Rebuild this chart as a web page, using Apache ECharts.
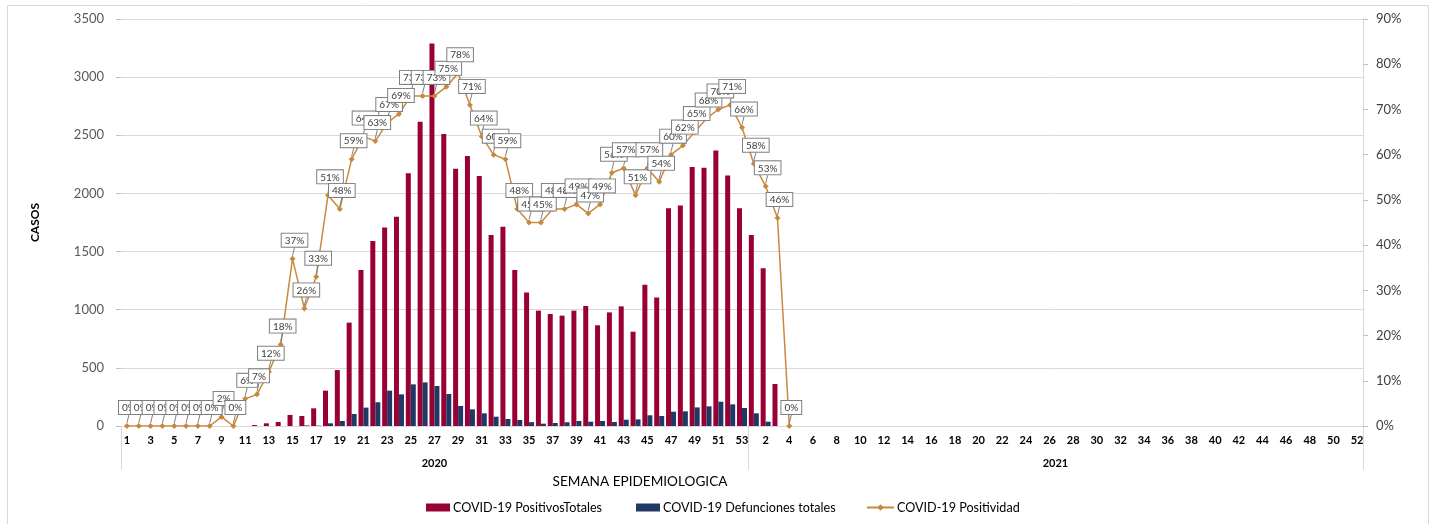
<!DOCTYPE html>
<html>
<head>
<meta charset="utf-8">
<script src="https://cdn.jsdelivr.net/npm/echarts@6/dist/echarts.min.js"></script>
<style>
  html, body { margin: 0; padding: 0; background: #fff; }
  #chart { width: 1433px; height: 524px; }
</style>
</head>
<body>
<div id="chart"></div>
<script>
// Epidemiological weeks: 2020 has 53 weeks, 2021 has 52
const semanas = [
  '1','2','3','4','5','6','7','8','9','10','11','12','13','14','15','16','17','18','19','20',
  '21','22','23','24','25','26','27','28','29','30','31','32','33','34','35','36','37','38','39','40',
  '41','42','43','44','45','46','47','48','49','50','51','52','53',
  '1','2','3','4','5','6','7','8','9','10','11','12','13','14','15','16','17','18','19','20',
  '21','22','23','24','25','26','27','28','29','30','31','32','33','34','35','36','37','38','39','40',
  '41','42','43','44','45','46','47','48','49','50','51','52'
];
const anios = ['2020', '2021'];
const semanasPorAnio = [53, 52];

// Weekly positive cases (2020 w1..w53, then 2021)
const positivos = [
  0, 0, 0, 0, 0, 0, 0, 0, 0, 0, 0, 8, 23, 34, 95, 86, 152, 304, 481, 889,
  1341, 1591, 1708, 1800, 2173, 2617, 3290, 2511, 2213, 2322, 2150, 1642, 1714, 1341, 1149, 992, 963, 949, 992, 1032,
  866, 977, 1029, 811, 1215, 1106, 1872, 1897, 2227, 2221, 2370, 2155, 1872,
  1642, 1356, 361
];

// Weekly deaths
const defunciones = [
  0, 0, 0, 0, 0, 0, 0, 0, 0, 0, 0, 0, 0, 0, 0, 5, 3, 23, 43, 103,
  158, 204, 304, 272, 358, 375, 344, 275, 172, 143, 109, 80, 60, 52, 33, 20, 26, 32, 43, 37,
  43, 34, 54, 57, 92, 86, 123, 126, 160, 169, 209, 186, 155,
  109, 37, 0
];

// Weekly test positivity (fraction)
const positividad = [
  0, 0, 0, 0, 0, 0, 0, 0, 0.02, 0, 0.06, 0.07, 0.12, 0.18, 0.37, 0.26, 0.33, 0.51, 0.48, 0.59,
  0.64, 0.63, 0.67, 0.69, 0.73, 0.73, 0.73, 0.75, 0.78, 0.71, 0.64, 0.60, 0.59, 0.48, 0.45, 0.45, 0.48, 0.48, 0.49, 0.47,
  0.49, 0.56, 0.57, 0.51, 0.57, 0.54, 0.60, 0.62, 0.65, 0.68, 0.70, 0.71, 0.66,
  0.58, 0.53, 0.46, 0
];

const FONT = 'Lato, "Open Sans", "Noto Sans", sans-serif';
const C_POS = '#990033';
const C_DEF = '#1f3864';
const C_LINE = '#c8893c';
const pct = v => Math.round(v * 100) + '%';

const chart = echarts.init(document.getElementById('chart'), null, { renderer: 'canvas' });

const legendBase = {
  top: 501, padding: 0, itemGap: 0, itemWidth: 24, itemHeight: 8,
  textStyle: { fontFamily: FONT, fontSize: 12.6, color: '#000', padding: [0, 0, 0, -2] }
};

chart.setOption({
  animation: false,
  textStyle: { fontFamily: FONT },
  grid: { left: 121, right: 70, top: 19, bottom: 98 },
  legend: [
    Object.assign({}, legendBase, { left: 426, data: [{ name: 'COVID-19 PositivosTotales', icon: 'rect' }] }),
    Object.assign({}, legendBase, { left: 636, data: [{ name: 'COVID-19 Defunciones totales', icon: 'rect' }] }),
    Object.assign({}, legendBase, { left: 866, itemWidth: 27, data: ['COVID-19 Positividad'] })
  ],
  xAxis: {
    type: 'category',
    data: semanas,
    boundaryGap: true,
    axisLine: { show: true, lineStyle: { color: '#d9d9d9' } },
    axisTick: { show: false },
    axisLabel: { interval: 1, margin: 9, fontSize: 11, fontWeight: 'bold', color: '#000' }
  },
  yAxis: [
    {
      type: 'value', min: 0, max: 3500, interval: 500,
      name: 'CASOS', nameLocation: 'middle', nameGap: 80,
      nameTextStyle: { fontSize: 12, fontWeight: 'bold', color: '#000' },
      axisLine: { show: false },
      axisTick: { show: true, length: 5, lineStyle: { color: '#bfbfbf' } },
      axisLabel: { margin: 17, fontSize: 13, color: '#595959', formatter: v => String(v) },
      splitLine: { lineStyle: { color: '#d9d9d9' } }
    },
    {
      type: 'value', min: 0, max: 0.9, interval: 0.1, position: 'right',
      axisLine: { show: true, lineStyle: { color: '#d9d9d9' } },
      axisTick: { show: true, length: 5, lineStyle: { color: '#bfbfbf' } },
      axisLabel: { margin: 13, fontSize: 13, color: '#404040', formatter: pct },
      splitLine: { show: false }
    }
  ],
  series: [
    {
      name: 'COVID-19 PositivosTotales', type: 'bar', data: positivos,
      barWidth: 5, barGap: '0%', itemStyle: { color: C_POS }
    },
    {
      name: 'COVID-19 Defunciones totales', type: 'bar', data: defunciones,
      barWidth: 5, barGap: '0%', itemStyle: { color: C_DEF }
    },
    {
      name: 'COVID-19 Positividad', type: 'line', yAxisIndex: 1, data: positividad,
      symbol: 'diamond', symbolSize: 6,
      lineStyle: { color: C_LINE, width: 1.5 },
      itemStyle: { color: C_LINE },
      label: {
        show: true, position: 'top', distance: 8,
        formatter: p => pct(p.value),
        fontSize: 10, color: '#404040', backgroundColor: '#fff',
        borderColor: '#7f7f7f', borderWidth: 1, padding: [2, 3, 1, 3]
      },
      labelLine: { show: true, length2: 0, lineStyle: { color: '#7f7f7f', width: 1 } },
      labelLayout: { dx: 2, dy: -1 }
    }
  ]
});

// Year grouping under the week labels: divider lines and centered year names
function drawYearGroups() {
  const xPix = i => chart.convertToPixel({ xAxisIndex: 0 }, i);
  const y0 = chart.convertToPixel({ yAxisIndex: 0 }, 0);
  const band = xPix(1) - xPix(0);
  const edges = [xPix(0) - band / 2];
  let idx = 0;
  semanasPorAnio.forEach(n => { idx += n; edges.push(xPix(idx - 1) + band / 2); });

  const elements = [
    { type: 'rect', shape: { x: 7.5, y: 5.5, width: 1421, height: 530 },
      style: { fill: 'none', stroke: '#d9d9d9', lineWidth: 1 }, silent: true, z: -10 },
    { type: 'text', x: 640, y: 482,
      style: { text: 'SEMANA EPIDEMIOLOGICA', font: '13.6px ' + FONT, fill: '#000',
               align: 'center', verticalAlign: 'middle' } }
  ];
  edges.forEach(x => {
    elements.push({ type: 'line', shape: { x1: Math.round(x) + 0.5, y1: y0, x2: Math.round(x) + 0.5, y2: y0 + 44 },
      style: { stroke: '#d9d9d9', lineWidth: 1 }, silent: true });
  });
  anios.forEach((a, k) => {
    elements.push({ type: 'text', x: (edges[k] + edges[k + 1]) / 2, y: y0 + 37,
      style: { text: a, font: 'bold 11px ' + FONT, fill: '#000', align: 'center', verticalAlign: 'middle' } });
  });
  chart.setOption({ graphic: { elements } });
}
drawYearGroups();
</script>
</body>
</html>
